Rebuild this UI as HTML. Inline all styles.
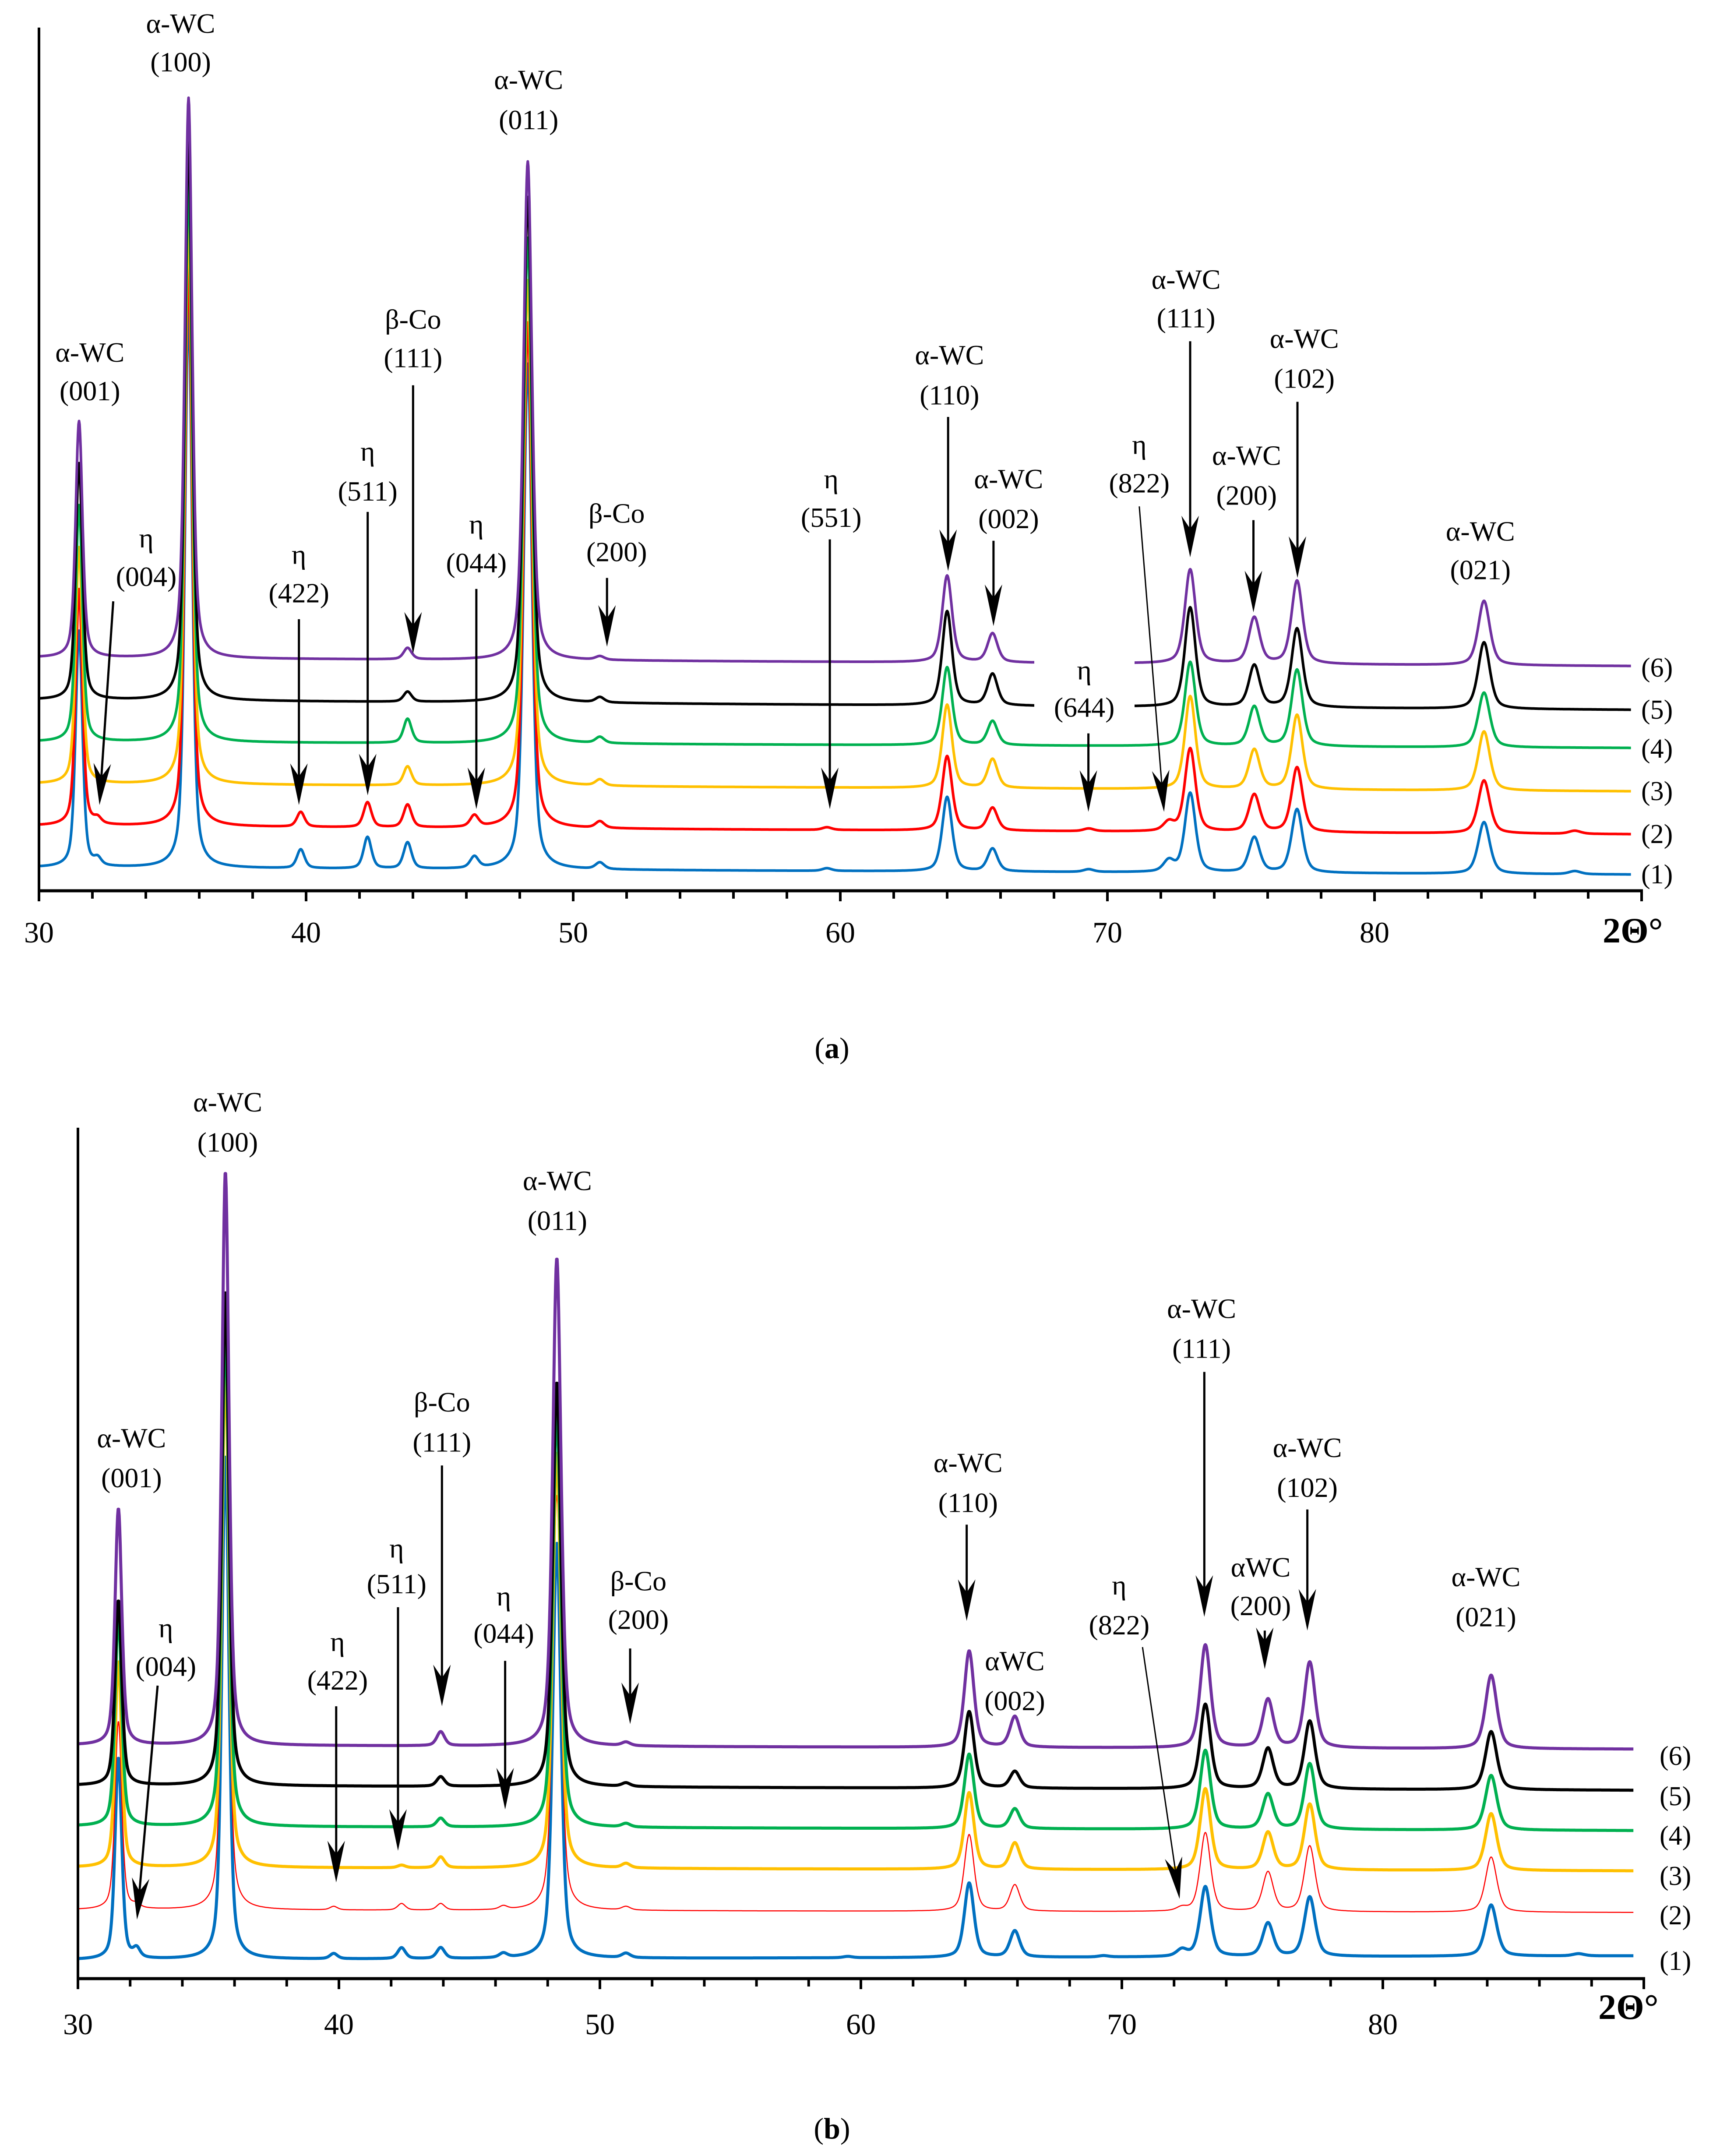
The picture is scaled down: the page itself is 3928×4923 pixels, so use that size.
<!DOCTYPE html>
<html><head><meta charset="utf-8"><style>
html,body{margin:0;padding:0;background:#fff}
svg{display:block}
text{font-family:"Liberation Serif","DejaVu Serif",serif;fill:#000}
</style></head><body>
<svg id="chart" xmlns="http://www.w3.org/2000/svg" width="3928" height="4923" viewBox="0 0 3928 4923">
<rect width="3928" height="4923" fill="#fff"/>
<g id="panelA"></g>
<g id="panelB"></g>
</svg>
<script>
// ---- data ----
const seriesNames = ["(1)","(2)","(3)","(4)","(5)","(6)"];
const seriesColors = ["#0070C0","#FF0000","#FFC000","#00B050","#000000","#7030A0"];
const xTicks = [30,40,50,60,70,80];
const peaksA = [31.5,32.2,35.6,39.8,42.3,43.8,46.3,48.3,51.0,59.5,64.0,65.7,69.3,72.3,73.1,75.5,77.1,84.1,87.5];
const hA1 = [540,15,1280,43,72,60,26,1155,15,6,170,52,6,25,181,80,145,118,7];
const hA2 = [540,12,1280,34,57,52,26,1155,15,6,170,52,6,20,190,85,148,121,7];
const hA3 = [540,0,1280,0,0,43,0,1155,14,0,190,66,0,0,212,90,170,135,0];
const hA4 = [540,0,1280,0,0,55,0,1155,14,0,178,55,0,0,192,90,175,125,0];
const hA5 = [540,0,1280,0,0,23,0,1155,12,0,215,72,0,0,227,95,180,152,0];
const hA6 = [540,0,1280,0,0,26,0,1139,8,0,198,66,0,0,215,105,190,147,0];
const bgLeftA = [53,148,244,340,436,532];
const bgRightA = [37,129,227,326,413,513];
const peaksB = [31.55,32.25,35.65,39.8,42.4,43.9,46.3,48.35,51.0,59.5,64.15,65.9,69.3,72.3,73.2,75.6,77.2,84.15,87.5];
const hB1 = [460,20,1150,12,25,25,10,950,10,3,170,60,3,15,160,76,136,117,5];
const hB2 = [430,8,1150,8,15,15,8,950,8,0,175,60,0,8,180,90,150,126,0];
const hB3 = [470,0,1150,0,6,25,0,950,10,0,175,60,0,0,185,85,150,130,0];
const hB4 = [480,0,1150,0,0,20,0,950,8,0,170,45,0,0,180,80,150,125,0];
const hB5 = [422,0,1129,0,0,22,0,924,8,0,175,38,0,0,193,92,155,133,0];
const hB6 = [540,0,1310,0,0,32,0,1115,8,0,220,70,0,0,235,110,196,168,0];
const bgLeftB = [43,157,254,348,441,533];
const bgRightB = [52,151,246,338,430,524];

const NS="http://www.w3.org/2000/svg";
function mk(tag,attrs,parent){const e=document.createElementNS(NS,tag);for(const k in attrs)e.setAttribute(k,attrs[k]);parent.appendChild(e);return e;}

function profile(x,peaks,h){
  let s=0;
  for(let i=0;i<peaks.length;i++){
    if(!h[i])continue;
    const w=0.3+0.004*(peaks[i]-30);
    const d=(x-peaks[i])/(w/2);
    s+=h[i]*(0.5/(1+d*d)+0.5*Math.exp(-0.6931*d*d));
  }
  return s;
}

function drawPanel(g,cfg){
  const X=v=>cfg.x0+(v-30)*cfg.kx;
  const Y=v=>cfg.axisY-v;
  const hs=cfg.heights;
  for(let s=0;s<6;s++){
    let d="";
    for(let x=30;x<=89.6;x+=0.02){
      const bg=cfg.bgL[s]+(cfg.bgR[s]-cfg.bgL[s])*(x-30)/60;
      const v=bg+profile(x,cfg.peaks,hs[s]);
      d+=(d?"L":"M")+X(x).toFixed(1)+","+Y(v).toFixed(1);
    }
    const p=mk("path",{d:d,fill:"none",stroke:seriesColors[s],"stroke-width":(cfg.thinRed&&s===1)?2.5:cfg.sw,"stroke-linejoin":"round"},g);
    
    
  }
  (cfg.masks||[]).forEach(m=>{
    const r=mk("rect",{x:m[0],y:m[1],width:m[2],height:m[3],fill:"#fff"},g);
    
    
  });
  const ya=mk("line",{x1:cfg.x0,y1:cfg.yTop,x2:cfg.x0,y2:cfg.axisY+3,stroke:"#000","stroke-width":6},g);
  
  
  const xa=mk("line",{x1:cfg.x0-3,y1:cfg.axisY,x2:X(90)+3,y2:cfg.axisY,stroke:"#000","stroke-width":7},g);
  
  
  for(let t=30;t<=90;t+=2){
    const tk=mk("line",{x1:X(t),y1:cfg.axisY,x2:X(t),y2:cfg.axisY+(t%10===0?24:18),stroke:"#000","stroke-width":6},g);
    
    
  }
  xTicks.forEach(t=>{
    const tl=mk("text",{x:X(t),y:cfg.tickY,"font-size":68,"text-anchor":"middle"},g);
    tl.textContent=t;
    
    
  });
  const at=mk("text",{x:cfg.titleX,y:cfg.titleY,"font-size":82,"font-weight":"bold"},g);
  at.textContent="2Θ°";
  
  
  cfg.labelY.forEach((yy,i)=>{
    const t=mk("text",{x:cfg.labelX,y:yy,"font-size":62,"dominant-baseline":"central"},g);
    t.textContent=seriesNames[i];
    
    
  });
  cfg.ann.forEach(a=>{
    const fx=cfg.fx, fy=v=>v*3.142+cfg.dy;
    const t1=mk("text",{x:fx(a[1]),y:fy(a[2]),"font-size":64,"text-anchor":"middle","dominant-baseline":"central"},g);
    t1.textContent=a[0].split("|")[0];
    
    
    const t2=mk("text",{x:fx(a[1]),y:fy(a[3]),"font-size":64,"text-anchor":"middle","dominant-baseline":"central"},g);
    t2.textContent=a[0].split("|")[1];
    
    
    if(a.length>4){
      const x1=fx(a[4]),y1=fy(a[5]),x2=fx(a[6]),y2=fy(a[7]);
      const ang=Math.atan2(y2-y1,x2-x1);
      const L=95,W=20,N=30;
      const bx=x2-L*Math.cos(ang),by=y2-L*Math.sin(ang);
      const nx=x2-(L-N)*Math.cos(ang),ny=y2-(L-N)*Math.sin(ang);
      const px=-Math.sin(ang),py=Math.cos(ang);
      const ln=mk("line",{x1:x1,y1:y1,x2:nx,y2:ny,stroke:"#000","stroke-width":a[8]?3:5},g);
      
      
      const hd=mk("polygon",{points:`${x2},${y2} ${bx+px*W},${by+py*W} ${nx},${ny} ${bx-px*W},${by-py*W}`,fill:"#000"},g);
      
      
    }
  });
}

const fa=xd=>89+(xd-28)*3.141;
const fb=xd=>178+(xd-55)*3.137;
drawPanel(document.getElementById("panelA"),{
  x0:89,kx:61,axisY:2034,yTop:63,sw:6,peaks:peaksA,heights:[hA1,hA2,hA3,hA4,hA5,hA6],
  bgL:bgLeftA,bgR:bgRightA,tickY:2152,titleX:3660,titleY:2152,labelX:3748,
  labelY:[1997,1905,1807,1710,1621,1525],fx:fa,dy:0,
  masks:[[2362,1470,229,180]],
  ann:[
    ["α-WC|(001)",65,256,284],["α-WC|(100)",131,17,45],["α-WC|(011)",384,58,87],
    ["η|(004)",106,391,419,82,437,72,585],["η|(422)",217,403,431,217,450,217,585],
    ["η|(511)",267,328,357,267,372,267,578],["β-Co|(111)",300,232,260,300,280,300,475],
    ["η|(044)",346,381,409,346,428,346,588],["β-Co|(200)",448,373,401,441,420,441,470],
    ["η|(551)",604,348,376,603,392,603,588],["α-WC|(110)",690,258,287,689,303,689,415],
    ["α-WC|(002)",733,348,377,722,393,722,455],["η|(822)",828,323,351,828,368,846,590,1],
    ["η|(644)",788,487,514,791,533,791,590],["α-WC|(111)",862,203,231,865,248,865,405],
    ["α-WC|(200)",906,331,360,911,378,911,445],["α-WC|(102)",948,246,275,943,292,943,420],
    ["α-WC|(021)",1076,386,414]
  ]
});
drawPanel(document.getElementById("panelB"),{
  x0:178,kx:59.6,axisY:4518,yTop:2575,sw:7,thinRed:true,peaks:peaksB,heights:[hB1,hB2,hB3,hB4,hB5,hB6],
  bgL:bgLeftB,bgR:bgRightB,tickY:4645,titleX:3650,titleY:4610,labelX:3790,
  labelY:[4478,4374,4284,4192,4102,4010],fx:fb,dy:0,
  ann:[
    ["α-WC|(001)",94,1045,1074],["α-WC|(100)",164,801,830],["α-WC|(011)",404,858,887],
    ["η|(004)",119,1183,1211,113,1225,98,1395],["η|(422)",244,1193,1221,243,1240,243,1368],
    ["η|(511)",287,1125,1151,288,1168,288,1345],["β-Co|(111)",320,1019,1048,320,1065,320,1240],
    ["η|(044)",365,1160,1187,366,1207,366,1315],["β-Co|(200)",463,1149,1177,457,1198,457,1253],
    ["α-WC|(110)",703,1063,1092,702,1108,702,1178],["αWC|(002)",737,1207,1236],
    ["η|(822)",813,1152,1181,830,1197,857,1380,1],["α-WC|(111)",873,951,980,875,997,875,1175],
    ["αWC|(200)",916,1139,1167,919,1185,919,1213],["α-WC|(102)",950,1052,1081,950,1097,950,1185],
    ["α-WC|(021)",1080,1146,1175]
  ]
});
const svg=document.getElementById("chart");
[["a",2393],["b",4860]].forEach(p=>{
  const t=mk("text",{x:1900,y:p[1],"font-size":68,"text-anchor":"middle","dominant-baseline":"central"},svg);
  t.innerHTML='(<tspan font-weight="bold">'+p[0]+'</tspan>)';
  
  
});
</script>
</body></html>
